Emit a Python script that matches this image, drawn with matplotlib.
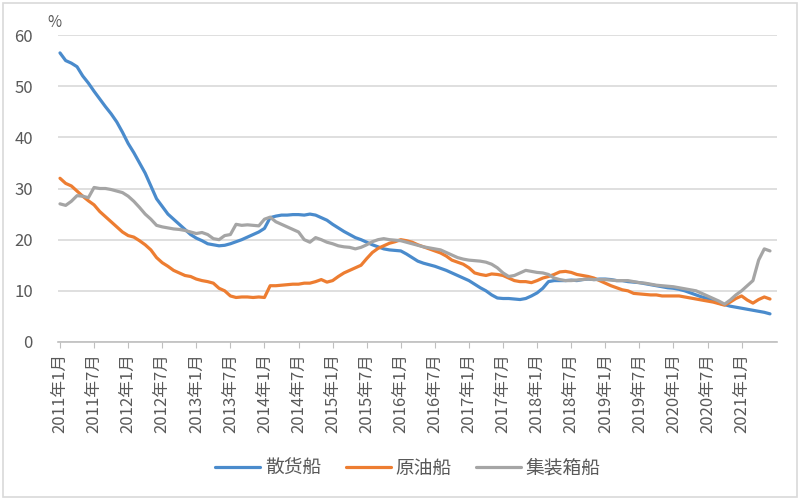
import numpy as np
import matplotlib
matplotlib.use('Agg')
import matplotlib.pyplot as plt
from matplotlib.patches import Rectangle

plt.rcParams['font.family'] = ['Noto Sans CJK SC', 'DejaVu Sans']

# monthly values, 2011年1月 .. 2021年6月
bulk = [56.5, 55.0, 54.5, 53.8, 52.0, 50.6, 49.0, 47.5, 46.0, 44.6, 43.0, 41.0,
        38.8, 37.0, 35.0, 33.0, 30.5, 28.0, 26.5, 25.0, 24.0, 23.0, 22.0, 21.0,
        20.3, 19.8, 19.2, 19.0, 18.8, 18.9, 19.2, 19.6, 20.0, 20.5, 21.0, 21.5,
        22.2, 24.3, 24.6, 24.8, 24.8, 24.9, 24.9, 24.8, 25.0, 24.8, 24.3, 23.8,
        23.0, 22.3, 21.6, 21.0, 20.4, 20.0, 19.5, 19.0, 18.6, 18.2, 18.0, 17.9,
        17.8, 17.2, 16.5, 15.8, 15.4, 15.1, 14.8, 14.4, 14.0, 13.5, 13.0, 12.5,
        12.0, 11.3, 10.6, 10.0, 9.2, 8.6, 8.5, 8.5, 8.4, 8.3, 8.5, 9.0,
        9.6, 10.5, 11.8, 12.0, 12.0, 12.0, 12.1, 12.0, 12.2, 12.3, 12.2, 12.3,
        12.3, 12.2, 12.0, 12.0, 11.8, 11.7, 11.6, 11.4, 11.2, 11.0, 10.8, 10.6,
        10.5, 10.3, 10.0, 9.6, 9.2, 8.8, 8.5, 8.0, 7.6, 7.3, 7.0, 6.8,
        6.6, 6.4, 6.2, 6.0, 5.8, 5.5]

crude = [32.0, 31.0, 30.5, 29.5, 28.5, 27.6, 26.8, 25.5, 24.5, 23.5, 22.5, 21.5,
         20.8, 20.5, 19.8, 19.0, 18.0, 16.5, 15.5, 14.8, 14.0, 13.5, 13.0, 12.8,
         12.3, 12.0, 11.8, 11.5, 10.5, 10.0, 9.0, 8.7, 8.8, 8.8, 8.7, 8.8,
         8.7, 11.0, 11.0, 11.1, 11.2, 11.3, 11.3, 11.5, 11.5, 11.8, 12.2, 11.7,
         12.0, 12.8, 13.5, 14.0, 14.5, 15.0, 16.3, 17.5, 18.3, 18.8, 19.3, 19.6,
         20.0, 19.8, 19.5, 19.0, 18.6, 18.2, 17.8, 17.4, 16.8, 16.0, 15.6, 15.2,
         14.5, 13.5, 13.2, 13.0, 13.3, 13.2, 13.0, 12.5, 12.0, 11.8, 11.8, 11.6,
         12.0, 12.5, 12.8, 13.2, 13.7, 13.8, 13.6, 13.2, 13.0, 12.8, 12.5, 12.0,
         11.5, 11.0, 10.6, 10.2, 10.0, 9.5, 9.4, 9.3, 9.2, 9.2, 9.0, 9.0,
         9.0, 9.0, 8.8, 8.6, 8.4, 8.2, 8.0, 7.8, 7.5, 7.2, 7.8, 8.5,
         9.0, 8.2, 7.6, 8.3, 8.8, 8.4]

container = [27.0, 26.7, 27.5, 28.6, 28.5, 28.2, 30.2, 30.0, 30.0, 29.8, 29.5, 29.2,
             28.5, 27.5, 26.3, 25.0, 24.0, 22.8, 22.5, 22.3, 22.1, 22.0, 21.8, 21.5,
             21.2, 21.4, 21.0, 20.2, 20.0, 20.8, 21.0, 23.0, 22.8, 22.9, 22.8, 22.7,
             24.0, 24.4, 23.5, 23.0, 22.5, 22.0, 21.5, 20.0, 19.5, 20.4, 20.0, 19.5,
             19.2, 18.8, 18.6, 18.5, 18.2, 18.5, 19.0, 19.6, 20.0, 20.2, 20.0, 19.9,
             19.8, 19.5, 19.2, 18.9, 18.6, 18.4, 18.2, 18.0, 17.5, 17.0, 16.5, 16.2,
             16.0, 15.9, 15.8, 15.6, 15.2, 14.5, 13.5, 12.8, 13.0, 13.5, 14.0, 13.8,
             13.6, 13.5, 13.2, 12.5, 12.2, 12.0, 12.0, 12.1, 12.2, 12.3, 12.2, 12.2,
             12.2, 12.1, 12.0, 12.0, 12.0, 11.8, 11.6, 11.5, 11.3, 11.1, 11.0, 10.9,
             10.8, 10.6, 10.4, 10.2, 10.0, 9.5, 9.0, 8.5, 8.0, 7.4, 8.2, 9.2,
             10.0, 11.0, 12.0, 16.0, 18.2, 17.8]

series_names = ['散货船', '原油船', '集装箱船']
colors = ['#4A8BCC', '#ED7D31', '#A5A5A5']

years = list(range(2011, 2022))
tick_labels = [f'{y}年{m}月' for y in years for m in (1, 7)][:-1]
tick_pos = [i * 6 for i in range(len(tick_labels))]

fig = plt.figure(figsize=(8, 5), dpi=100)
ax = fig.add_axes([0.0725, 0.316, 0.8985, 0.614])

x = np.arange(len(bulk))
for vals, name, c in zip([bulk, crude, container], series_names, colors):
    ax.plot(x, vals, color=c, lw=2.3, label=name, solid_capstyle='round')

ax.set_ylim(0, 60)
ax.set_yticks(range(0, 61, 10))
ax.set_xlim(-0.35, 126.2)
ax.set_xticks(tick_pos)
ax.set_xticklabels(tick_labels, rotation=90, fontsize=12, color='#595959')
ax.tick_params(axis='x', length=4, color='#bfbfbf', pad=4)
ax.tick_params(axis='y', length=0, labelsize=12, labelcolor='#595959', pad=18)
ax.grid(axis='y', color='#d9d9d9', lw=1.2)
ax.set_axisbelow(True)
for s in ['top', 'right', 'left']:
    ax.spines[s].set_visible(False)
ax.spines['bottom'].set_color('#bfbfbf')
ax.spines['bottom'].set_linewidth(1.2)

fig.text(0.059, 0.955, '%', fontsize=11, color='#595959', ha='left', va='center')

fig.legend(loc='center', bbox_to_anchor=(0.51, 0.064), ncol=3, frameon=False,
           fontsize=13.5, handlelength=2.4, handletextpad=0.25, columnspacing=1.3,
           labelcolor='#595959')

fig.patches.append(Rectangle((0.004, 0.006), 0.992, 0.988, transform=fig.transFigure,
                             fill=False, ec='#d9d9d9', lw=1.2))

fig.savefig('out.png', dpi=100)
